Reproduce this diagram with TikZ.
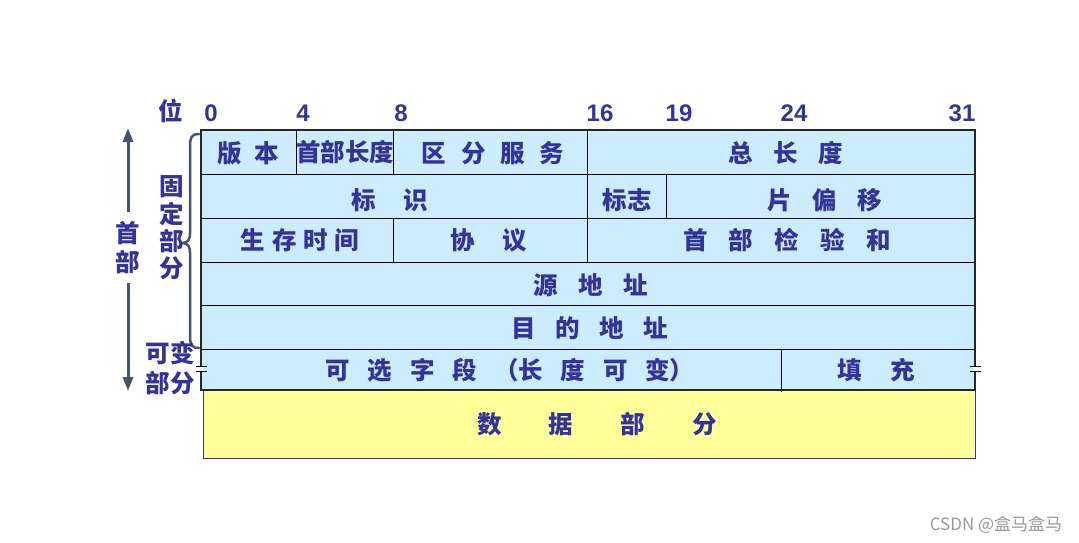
\documentclass[tikz,border=0pt]{standalone}
\usepackage{fontspec}
\setmainfont{Liberation Sans}
\newfontfamily\cjk{Noto Sans CJK SC}
\usetikzlibrary{arrows.meta}
\definecolor{txtblue}{HTML}{333399}
\definecolor{cellblue}{HTML}{CCECFF}
\definecolor{datayellow}{HTML}{FFFF99}
\definecolor{slate}{HTML}{44546A}
\makeatletter
\newcommand\spc[2]{\def\spc@sep{}\@tfor\spc@c:=#2\do{\spc@sep\spc@c\def\spc@sep{\hspace{#1}}}}
\makeatother
\tikzset{
  lbl/.style={inner sep=0pt, text=txtblue, font=\cjk\bfseries\fontsize{24.5}{24.5}\selectfont},
  num/.style={inner sep=0pt, text=txtblue, font=\bfseries\fontsize{24}{24}\selectfont},
  thin/.style={black, line width=1pt},
  side/.style={inner sep=0pt, text=txtblue, font=\cjk\bfseries\fontsize{24.5}{24.5}\selectfont},
  arr/.style={slate, line width=3pt, -{Triangle[length=14pt,width=10pt]}},
}
\begin{document}
\begin{tikzpicture}[x=1pt,y=-1pt]
\useasboundingbox (0,0) rectangle (1079,543);
% fills
\fill[cellblue] (201,130) rectangle (975,390);
\filldraw[fill=datayellow, draw=txtblue, line width=1pt] (203,390) rectangle (975,458);
% row lines
\foreach \y in {174,218,262,305,349} \draw[thin] (201,\y) -- (975,\y);
% column lines
\draw[thin] (296,130) -- (296,174);
\draw[thin] (393,130) -- (393,174);
\draw[thin] (587,130) -- (587,174);
\draw[thin] (587,174) -- (587,218);
\draw[thin] (666,174) -- (666,218);
\draw[thin] (393,218) -- (393,262);
\draw[thin] (587,218) -- (587,262);
\draw[thin] (781,349) -- (781,392);
% outer border
\draw[line width=2.2pt, black!85] (201,130) rectangle (975,390);
% break marks
\fill[white] (198.5,366) rectangle (203.5,372);
\fill[white] (972.5,366) rectangle (977.5,372);
\draw[line width=1.5pt] (196,366.5) -- (207,366.5) (196,371.5) -- (207,371.5);
\draw[line width=1.5pt] (970,366.5) -- (981,366.5) (970,371.5) -- (981,371.5);
% bit labels
\node[side] (wei) at (171,111) {位};
\node[num] (b0) at (211,113) {0};
\node[num] (b4) at (303,113) {4};
\node[num] (b8) at (401,113) {8};
\node[num] (b16) at (600,113) {16};
\node[num] (b19) at (679,113) {19};
\node[num] (b24) at (794,113) {24};
\node[num] (b31) at (962,113) {31};
% cell texts
\node[lbl] (ver) at (248,153) {\spc{0.52em}{版本}};
\node[lbl] (hlen) at (345,152) {首部长度};
\node[lbl] (tos) at (493,153) {\spc{0.6em}{区分服务}};
\node[lbl] (tlen) at (786,153) {\spc{0.84em}{总长度}};
\node[lbl] (ident) at (390,200) {\spc{1.12em}{标识}};
\node[lbl] (flag) at (627,200) {标志};
\node[lbl] (frag) at (825,200) {\spc{0.84em}{片偏移}};
\node[lbl] (ttl) at (300,240) {\spc{0.28em}{生存时间}};
\node[lbl] (proto) at (489,240) {\spc{1.12em}{协议}};
\node[lbl] (csum) at (787,240) {\spc{0.87em}{首部检验和}};
\node[lbl] (src) at (591,285) {\spc{0.84em}{源地址}};
\node[lbl] (dst) at (590,328) {\spc{0.8em}{目的地址}};
\node[lbl] (opt) at (510,370) {\spc{0.72em}{可选字段}\hspace{0.72em}（\spc{0.72em}{长度可变}）};
\node[lbl] (pad) at (876,370) {\spc{1.16em}{填充}};
\node[lbl] (data) at (597,424) {\spc{1.92em}{数据部分}};
% brace
\draw[slate, line width=2.5pt, line cap=round] (199,134) .. controls (191,134) and (190,138) .. (190,147) -- (190,233) .. controls (190,240) and (188,242) .. (183,243) .. controls (188,244) and (190,246) .. (190,253) -- (190,336) .. controls (190,345) and (192,348) .. (199,348);
% side labels
\node[side] (gu) at (172,187) {固};
\node[side] (ding) at (172,214) {定};
\node[side] (bu1) at (172,241) {部};
\node[side] (fen1) at (172,268) {分};
\node[side] (kebian) at (170,353) {可变};
\node[side] (bufen) at (170,383) {部分};
\node[side] (shou) at (128,233) {首};
\node[side] (bu2) at (128,262) {部};
\coordinate (topend) at (128,128);
\coordinate (botend) at (128,391);
\draw[arr] (128,212) -- (topend);
\draw[arr] (128,283) -- (botend);
% watermark
\node[inner sep=0pt, text=black!40, font=\cjk\fontsize{17}{17}\selectfont] (wm) at (996,525) {CSDN @盒马盒马};
\end{tikzpicture}
\end{document}
